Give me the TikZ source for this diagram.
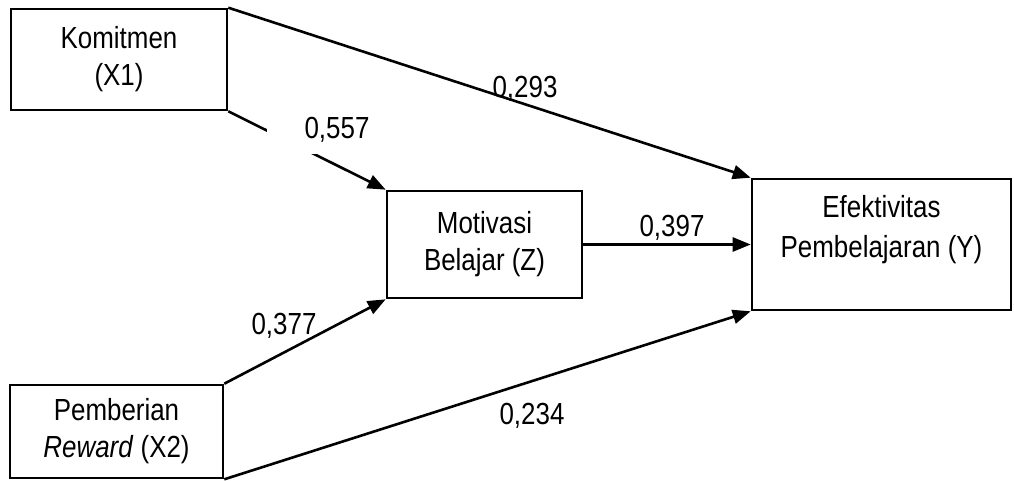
\documentclass[tikz,border=0pt]{standalone}
\usepackage{fontspec}
\setmainfont{Liberation Sans}[FakeStretch=0.85]
\usetikzlibrary{arrows.meta}
\begin{document}
\begin{tikzpicture}[x=1pt,y=-1pt,
  box/.style={draw,line width=2.6pt,rectangle,align=center,inner sep=0pt,
    font=\fontsize{30.5}{37}\selectfont},
  conn/.style={line width=2.6pt,-{Triangle[length=18pt,width=14pt]}},
  coef/.style={font=\fontsize{30.5}{36}\selectfont,inner sep=0pt}]
\useasboundingbox (0,0) rectangle (1014,481);
\node[box,minimum width=216pt,minimum height=101pt] (x1) at (119,59.5) {Komitmen\\(X1)};
\node[box,minimum width=213pt,minimum height=93pt] (x2) at (116.5,431.5) {Pemberian\\\textit{Reward} (X2)};
\node[box,minimum width=195pt,minimum height=107pt] (z) at (484.5,244.5) {Motivasi\\Belajar (Z)};
\node[box,minimum width=259pt,minimum height=131pt] (y) at (881.5,244.5) {};
\node[coef,font=\fontsize{30.5}{40}\selectfont,align=center] (ytext) at (881.5,230) {Efektivitas\\Pembelajaran (Y)};
\draw[conn] (x1.north east) -- (y.north west);
\draw[conn] (x1.south east) -- (z.north west);
\draw[conn] (x2.north east) -- (z.south west);
\draw[conn] (x2.south east) -- (y.south west);
\draw[conn] (z.east) -- (y.west);
\node[coef,fill=white,minimum width=140pt,minimum height=48pt] (c557) at (337,130) {0,557};
\node[coef] (c293) at (525,89) {0,293};
\node[coef] (c377) at (284,326) {0,377};
\node[coef] (c397) at (672,228) {0,397};
\node[coef] (c234) at (532,416) {0,234};
\end{tikzpicture}
\end{document}
